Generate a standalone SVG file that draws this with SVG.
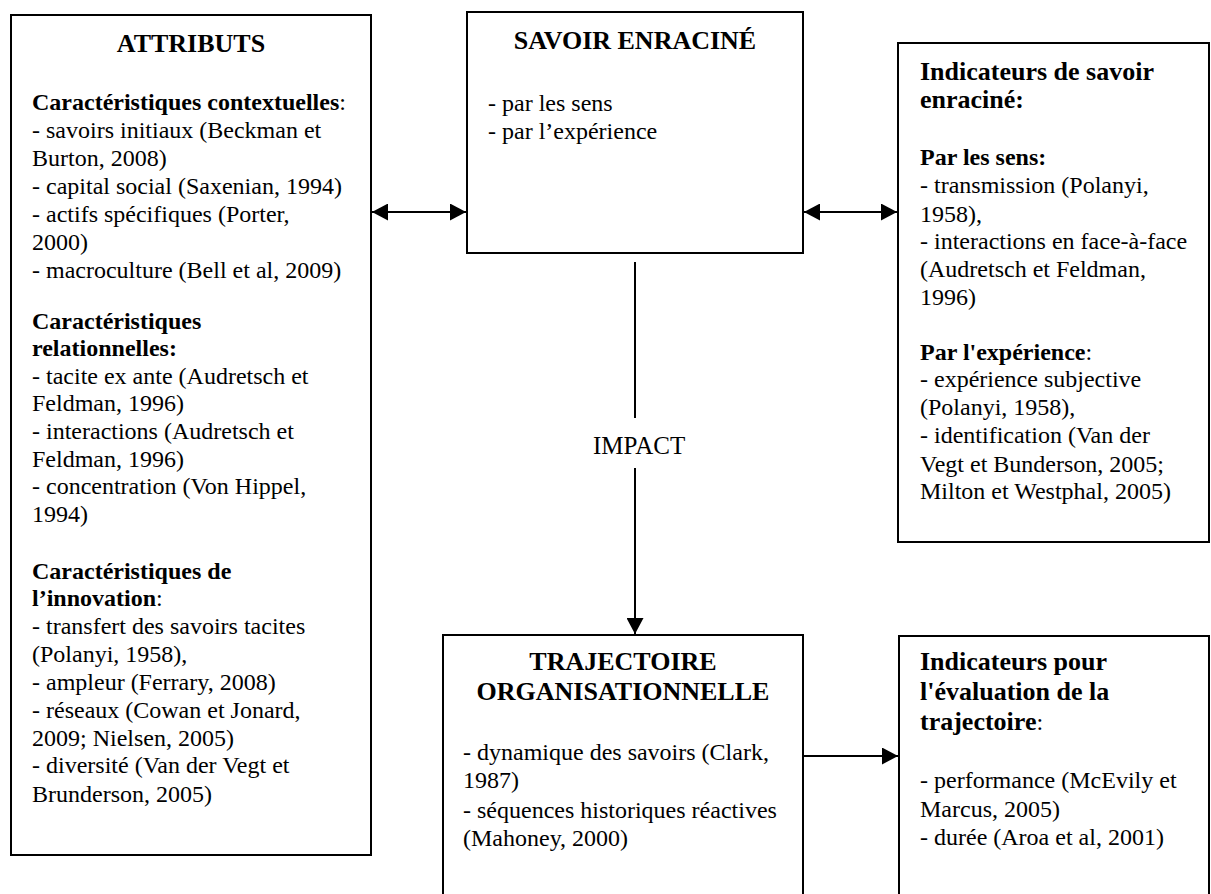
<svg xmlns="http://www.w3.org/2000/svg" width="1211" height="894" viewBox="0 0 1211 894">
<style>
text{font-family:'Liberation Serif','DejaVu Serif',serif;fill:#000}
.b{font-size:24px}
.h{font-size:24px;font-weight:bold}
.t{font-size:26px;font-weight:bold}
.box{fill:#fff;stroke:#000;stroke-width:2}
.ln{stroke:#000;stroke-width:2;fill:none}
</style>
<defs>
<marker id="ah" viewBox="0 0 16 17" refX="16" refY="8.5" markerWidth="16" markerHeight="17" markerUnits="userSpaceOnUse" orient="auto-start-reverse">
<path d="M0,0 L16,8.5 L0,17 z" fill="#000"/>
</marker>
</defs>
<rect width="1211" height="894" fill="#fff"/>
<g font-family="Liberation Serif, serif">
<g id="attributs">
<rect class="box" x="11" y="15" width="360" height="840"/>
<text class="t" x="191" y="52" text-anchor="middle">ATTRIBUTS</text>
<text class="b" x="32" y="110"><tspan class="h">Caractéristiques contextuelles</tspan>:</text>
<text class="b" x="32" y="138">- savoirs initiaux (Beckman et</text>
<text class="b" x="32" y="166">Burton, 2008)</text>
<text class="b" x="32" y="194">- capital social (Saxenian, 1994)</text>
<text class="b" x="32" y="222">- actifs spécifiques (Porter,</text>
<text class="b" x="32" y="250">2000)</text>
<text class="b" x="32" y="278">- macroculture (Bell et al, 2009)</text>
<text class="h" x="32" y="329">Caractéristiques</text>
<text class="h" x="32" y="356">relationnelles:</text>
<text class="b" x="32" y="384">- tacite ex ante (Audretsch et</text>
<text class="b" x="32" y="411">Feldman, 1996)</text>
<text class="b" x="32" y="439">- interactions (Audretsch et</text>
<text class="b" x="32" y="467">Feldman, 1996)</text>
<text class="b" x="32" y="494">- concentration (Von Hippel,</text>
<text class="b" x="32" y="522">1994)</text>
<text class="h" x="32" y="579">Caractéristiques de</text>
<text class="b" x="32" y="606"><tspan class="h">l’innovation</tspan>:</text>
<text class="b" x="32" y="634">- transfert des savoirs tacites</text>
<text class="b" x="32" y="662">(Polanyi, 1958),</text>
<text class="b" x="32" y="690">- ampleur (Ferrary, 2008)</text>
<text class="b" x="32" y="718">- réseaux (Cowan et Jonard,</text>
<text class="b" x="32" y="746">2009; Nielsen, 2005)</text>
<text class="b" x="32" y="773">- diversité (Van der Vegt et</text>
<text class="b" x="32" y="802">Brunderson, 2005)</text>
</g>
<g id="savoir">
<rect class="box" x="467" y="12" width="336" height="241"/>
<text class="t" x="635" y="49" text-anchor="middle">SAVOIR ENRACINÉ</text>
<text class="b" x="488" y="111">- par les sens</text>
<text class="b" x="488" y="139">- par l’expérience</text>
</g>
<g id="indicateurs-savoir">
<rect class="box" x="898" y="43" width="311" height="499"/>
<text class="t" x="920" y="80">Indicateurs de savoir</text>
<text class="t" x="920" y="108">enraciné:</text>
<text class="h" x="920" y="165">Par les sens:</text>
<text class="b" x="920" y="193">- transmission (Polanyi,</text>
<text class="b" x="920" y="222">1958),</text>
<text class="b" x="920" y="249">- interactions en face-à-face</text>
<text class="b" x="920" y="277">(Audretsch et Feldman,</text>
<text class="b" x="920" y="305">1996)</text>
<text class="b" x="920" y="360"><tspan class="h">Par l'expérience</tspan>:</text>
<text class="b" x="920" y="387">- expérience subjective</text>
<text class="b" x="920" y="415">(Polanyi, 1958),</text>
<text class="b" x="920" y="443">- identification (Van der</text>
<text class="b" x="920" y="472">Vegt et Bunderson, 2005;</text>
<text class="b" x="920" y="499">Milton et Westphal, 2005)</text>
</g>
<g id="trajectoire">
<rect class="box" x="443" y="635" width="360" height="270"/>
<text class="t" x="623" y="670" text-anchor="middle">TRAJECTOIRE</text>
<text class="t" x="623" y="700" text-anchor="middle">ORGANISATIONNELLE</text>
<text class="b" x="463" y="760">- dynamique des savoirs (Clark,</text>
<text class="b" x="463" y="788">1987)</text>
<text class="b" x="463" y="818">- séquences historiques réactives</text>
<text class="b" x="463" y="846">(Mahoney, 2000)</text>
</g>
<g id="indicateurs-trajectoire">
<rect class="box" x="899" y="636" width="310" height="270"/>
<text class="t" x="920" y="670">Indicateurs pour</text>
<text class="t" x="920" y="700">l'évaluation de la</text>
<text class="b" x="920" y="730"><tspan class="t">trajectoire</tspan>:</text>
<text class="b" x="920" y="788">- performance (McEvily et</text>
<text class="b" x="920" y="817">Marcus, 2005)</text>
<text class="b" x="920" y="845">- durée (Aroa et al, 2001)</text>
</g>
<g id="connectors">
<line class="ln" x1="372" y1="212" x2="466" y2="212" marker-start="url(#ah)" marker-end="url(#ah)"/>
<line class="ln" x1="804" y1="212" x2="897" y2="212" marker-start="url(#ah)" marker-end="url(#ah)"/>
<line class="ln" x1="635" y1="262" x2="635" y2="418"/>
<line class="ln" x1="635" y1="468" x2="635" y2="634" marker-end="url(#ah)"/>
<line class="ln" x1="803" y1="756" x2="898" y2="756" marker-end="url(#ah)"/>
<text x="593" y="454" style="font-size:25px">IMPACT</text>
</g>
</g>
</svg>
